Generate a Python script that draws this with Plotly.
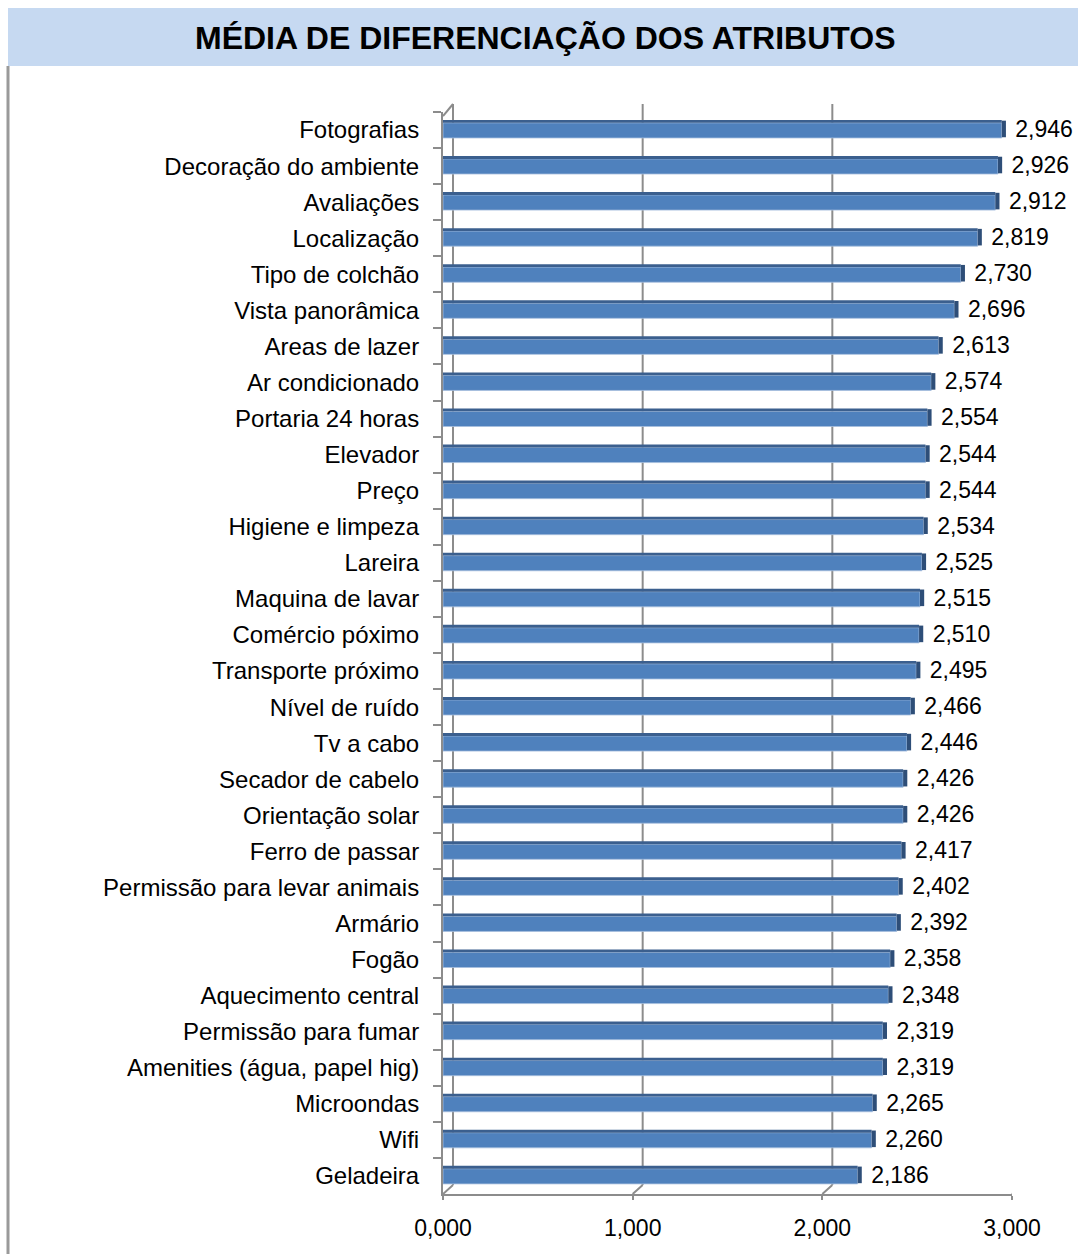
import plotly.graph_objects as go

categories = ["Fotografias", "Decoração do ambiente", "Avaliações", "Localização", "Tipo de colchão",
              "Vista panorâmica", "Areas de lazer", "Ar condicionado", "Portaria 24 horas", "Elevador",
              "Preço", "Higiene e limpeza", "Lareira", "Maquina de lavar", "Comércio póximo",
              "Transporte próximo", "Nível de ruído", "Tv a cabo", "Secador de cabelo", "Orientação solar",
              "Ferro de passar", "Permissão para levar animais", "Armário", "Fogão", "Aquecimento central",
              "Permissão para fumar", "Amenities (água, papel hig)", "Microondas", "Wifi", "Geladeira"]
values = [2.946, 2.926, 2.912, 2.819, 2.730, 2.696, 2.613, 2.574, 2.554, 2.544,
          2.544, 2.534, 2.525, 2.515, 2.510, 2.495, 2.466, 2.446, 2.426, 2.426,
          2.417, 2.402, 2.392, 2.358, 2.348, 2.319, 2.319, 2.265, 2.260, 2.186]
x_ticks = [0, 1, 2, 3]
title = "MÉDIA DE DIFERENCIAÇÃO DOS ATRIBUTOS"

W, H = 1078, 1254
L, R, T, B = 443, 66, 112, 60
plot_w = W - L - R
plot_h = H - T - B
depth = 10 / (plot_w / 3.0)  # 3D depth offset in data units
dy_paper = 9 / plot_h

font = "Liberation Sans, Arial, sans-serif"
grid_col = "#8C8C8C"

fig = go.Figure()
# front faces
fig.add_trace(go.Bar(y=categories, x=values, orientation="h", width=0.42, offset=-0.2,
                     marker=dict(color="#4F81BD", line=dict(color="#A7BFDE", width=0.8)),
                     hoverinfo="x+y", showlegend=False))
# top faces
fig.add_trace(go.Bar(y=categories, x=values, orientation="h", width=0.08, offset=-0.28,
                     marker=dict(color="#3B5F8E", line=dict(width=0)),
                     hoverinfo="skip", showlegend=False))
# end caps with labels
fig.add_trace(go.Bar(y=categories, x=[0.022] * len(values), base=values, orientation="h",
                     width=0.46, offset=-0.26,
                     marker=dict(color="#2E4E78", line=dict(width=0)),
                     text=[" " + f"{v:.3f}".replace(".", ",") for v in values],
                     textposition="outside", cliponaxis=False, constraintext="none",
                     textfont=dict(family=font, size=23, color="#000000"),
                     hoverinfo="skip", showlegend=False))

shapes = []
# title band
shapes.append(dict(type="rect", xref="paper", yref="paper",
                   x0=-(L - 8) / plot_w, x1=(W - L) / plot_w,
                   y0=1 + (T - 66) / plot_h, y1=1 + (T - 8) / plot_h,
                   fillcolor="#C6D9F1", line=dict(width=0), layer="below"))
# left frame line
shapes.append(dict(type="line", xref="paper", yref="paper",
                   x0=-(L - 8) / plot_w, x1=-(L - 8) / plot_w,
                   y0=-B / plot_h, y1=1 + (T - 66) / plot_h,
                   line=dict(color="#9A9A9A", width=3)))
# back wall gridlines and floor diagonals
for k in x_ticks:
    shapes.append(dict(type="line", xref="x", yref="paper", x0=k + depth, x1=k + depth,
                       y0=dy_paper, y1=1 + 8 / plot_h,
                       line=dict(color=grid_col, width=2), layer="below"))
    shapes.append(dict(type="line", xref="x", yref="paper", x0=k, x1=k + depth,
                       y0=0, y1=dy_paper, line=dict(color=grid_col, width=2), layer="below"))
# top-left diagonal
shapes.append(dict(type="line", xref="x", yref="paper", x0=0, x1=depth,
                   y0=1 - 4 / plot_h, y1=1 + 8 / plot_h,
                   line=dict(color=grid_col, width=2)))

fig.update_layout(
    width=W, height=H,
    margin=dict(l=L, r=R, t=T, b=B, pad=0),
    paper_bgcolor="white", plot_bgcolor="rgba(0,0,0,0)",
    separators=",.",
    barmode="overlay",
    shapes=shapes,
    annotations=[dict(text=f"<b>{title}</b>", xref="paper", yref="paper",
                      x=(545 - L) / plot_w, y=1 + (T - 38) / plot_h,
                      xanchor="center", yanchor="middle", showarrow=False,
                      font=dict(family=font, size=32, color="#000000"))],
    xaxis=dict(range=[0, 3], tickvals=x_ticks, tickformat=".3f", showgrid=False,
               zeroline=False, showline=True, linecolor=grid_col, linewidth=2,
               ticks="outside", ticklen=4, tickcolor=grid_col, tickwidth=2,
               ticklabelstandoff=8,
               tickfont=dict(family=font, size=23, color="#000000"), fixedrange=True),
    yaxis=dict(autorange="reversed", showgrid=False, zeroline=False,
               showline=True, linecolor=grid_col, linewidth=2,
               ticks="outside", tickson="boundaries", ticklen=8, tickcolor=grid_col, tickwidth=2,
               ticklabelstandoff=17,
               tickfont=dict(family=font, size=24, color="#000000"), fixedrange=True),
    font=dict(family=font),
)

fig.write_html("out.html")
